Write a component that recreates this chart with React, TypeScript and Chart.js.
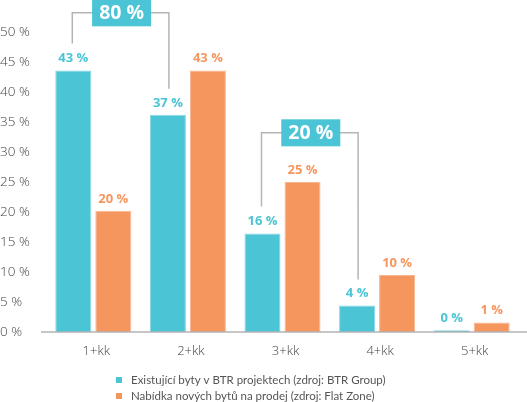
import React, { useEffect, useRef } from "react";
import { Chart, registerables } from "chart.js";

Chart.register(...registerables);

const categories = ["1+kk", "2+kk", "3+kk", "4+kk", "5+kk"];
const seriesNames = [
  "Existující byty v BTR projektech (zdroj: BTR Group)",
  "Nabídka nových bytů na prodej (zdroj: Flat Zone)",
];
const existingValues = [43.6, 36.2, 16.4, 4.4, 0.3];
const offerValues = [20.2, 43.6, 25.0, 9.5, 1.6];
const existingLabels = ["43 %", "37 %", "16 %", "4 %", "0 %"];
const offerLabels = ["20 %", "43 %", "25 %", "10 %", "1 %"];
const yTicks = [0, 5, 10, 15, 20, 25, 30, 35, 40, 45, 50];
const bracketFrom = [0, 2];
const bracketTo = [1, 3];
const bracketLevels = [53.2, 33.2];
const bracketTexts = ["80 %", "20 %"];

const TEAL = "#4BC4D5";
const ORANGE = "#F6965F";
const FONT = "Lato, 'Open Sans', sans-serif";
const WIDE = "'Open Sans', Lato, sans-serif";

const overlay = {
  id: "overlay",
  afterDatasetsDraw(chart: any) {
    const ctx = chart.ctx;
    const area = chart.chartArea;
    const yScale = chart.scales.y;
    ctx.save();
    // axis line
    ctx.strokeStyle = "#b3b3b3";
    ctx.lineWidth = 1.5;
    ctx.beginPath();
    ctx.moveTo(area.left - 5, area.bottom);
    ctx.lineTo(chart.width, area.bottom);
    ctx.stroke();

    // data labels
    const labelSets = [existingLabels, offerLabels];
    chart.data.datasets.forEach((ds: any, di: number) => {
      const meta = chart.getDatasetMeta(di);
      ctx.fillStyle = ds.labelColor;
      ctx.font = `bold 13px ${WIDE}`;
      ctx.textAlign = "center";
      ctx.textBaseline = "middle";
      meta.data.forEach((el: any, i: number) => {
        ctx.fillText(labelSets[di][i], el.x, el.y - 12);
      });
    });

    // brackets
    const meta0 = chart.getDatasetMeta(0);
    bracketFrom.forEach((from, bi) => {
      const a = meta0.data[from];
      const b = meta0.data[bracketTo[bi]];
      const yLine = yScale.getPixelForValue(bracketLevels[bi]);
      const x1 = a.x - 1;
      const x2 = b.x + 1;
      const mid = (x1 + x2) / 2 + 1;
      const bw = 59;
      const bh = 27;
      ctx.strokeStyle = "#b5b5b5";
      ctx.lineWidth = 1.5;
      ctx.beginPath();
      ctx.moveTo(x1, a.y - 27);
      ctx.lineTo(x1, yLine);
      ctx.lineTo(x2, yLine);
      ctx.lineTo(x2, b.y - 26);
      ctx.stroke();
      ctx.fillStyle = TEAL;
      ctx.fillRect(mid - bw / 2, yLine - bh / 2, bw, bh);
      ctx.fillStyle = "#ffffff";
      ctx.font = `bold 19.5px ${WIDE}`;
      ctx.textAlign = "center";
      ctx.textBaseline = "middle";
      ctx.fillText(bracketTexts[bi], mid, yLine + 1);
    });

    // legend
    const colors = [TEAL, ORANGE];
    seriesNames.forEach((name, i) => {
      const y = 380 + i * 16;
      ctx.fillStyle = colors[i];
      ctx.fillRect(116, y - 3, 6, 6);
      ctx.fillStyle = "#555555";
      ctx.font = `11.5px ${FONT}`;
      ctx.textAlign = "left";
      ctx.textBaseline = "middle";
      ctx.fillText(name, 131, y);
    });
    ctx.restore();
  },
};

export default function App() {
  const ref = useRef<HTMLCanvasElement>(null);
  useEffect(() => {
    const chart = new Chart(ref.current!, {
      type: "bar",
      data: {
        labels: categories,
        datasets: [
          {
            label: seriesNames[0],
            data: existingValues,
            backgroundColor: TEAL,
            borderColor: "#86d7e3",
            borderWidth: 1,
            labelColor: TEAL,
            categoryPercentage: 0.846,
            barPercentage: 0.9,
          } as any,
          {
            label: seriesNames[1],
            data: offerValues,
            backgroundColor: ORANGE,
            borderColor: "#f9b68e",
            borderWidth: 1,
            labelColor: ORANGE,
            categoryPercentage: 0.846,
            barPercentage: 0.9,
          } as any,
        ],
      },
      options: {
        responsive: false,
        animation: false,
        layout: { padding: { top: 32, right: 8, left: 0, bottom: 0 } },
        plugins: {
          legend: { display: false },
          tooltip: { enabled: false },
        },
        scales: {
          x: {
            grid: { display: false, drawTicks: false },
            border: { display: false },
            ticks: {
              color: "#444",
              font: { family: WIDE, size: 13, weight: 300 as any },
              padding: 11,
              labelOffset: 3,
            },
            afterFit: (s: any) => {
              s.height = 70;
            },
          },
          y: {
            min: 0,
            max: 50,
            afterBuildTicks: (s: any) => {
              s.ticks = yTicks.map((v) => ({ value: v }));
            },
            grid: { display: false, drawTicks: false },
            border: { display: false },
            ticks: {
              color: "#444",
              font: { family: WIDE, size: 13.5, weight: 300 as any },
              crossAlign: "far",
              callback: (v: any) => `${v} %`,
            },
            afterFit: (s: any) => {
              s.width = 46;
            },
          },
        },
      },
      plugins: [overlay],
    });
    return () => chart.destroy();
  }, []);
  return (
    <div style={{ position: "absolute", left: 0, top: 0, width: 527, height: 402, background: "#fff" }}>
      <canvas ref={ref} width={527} height={402} />
    </div>
  );
}
